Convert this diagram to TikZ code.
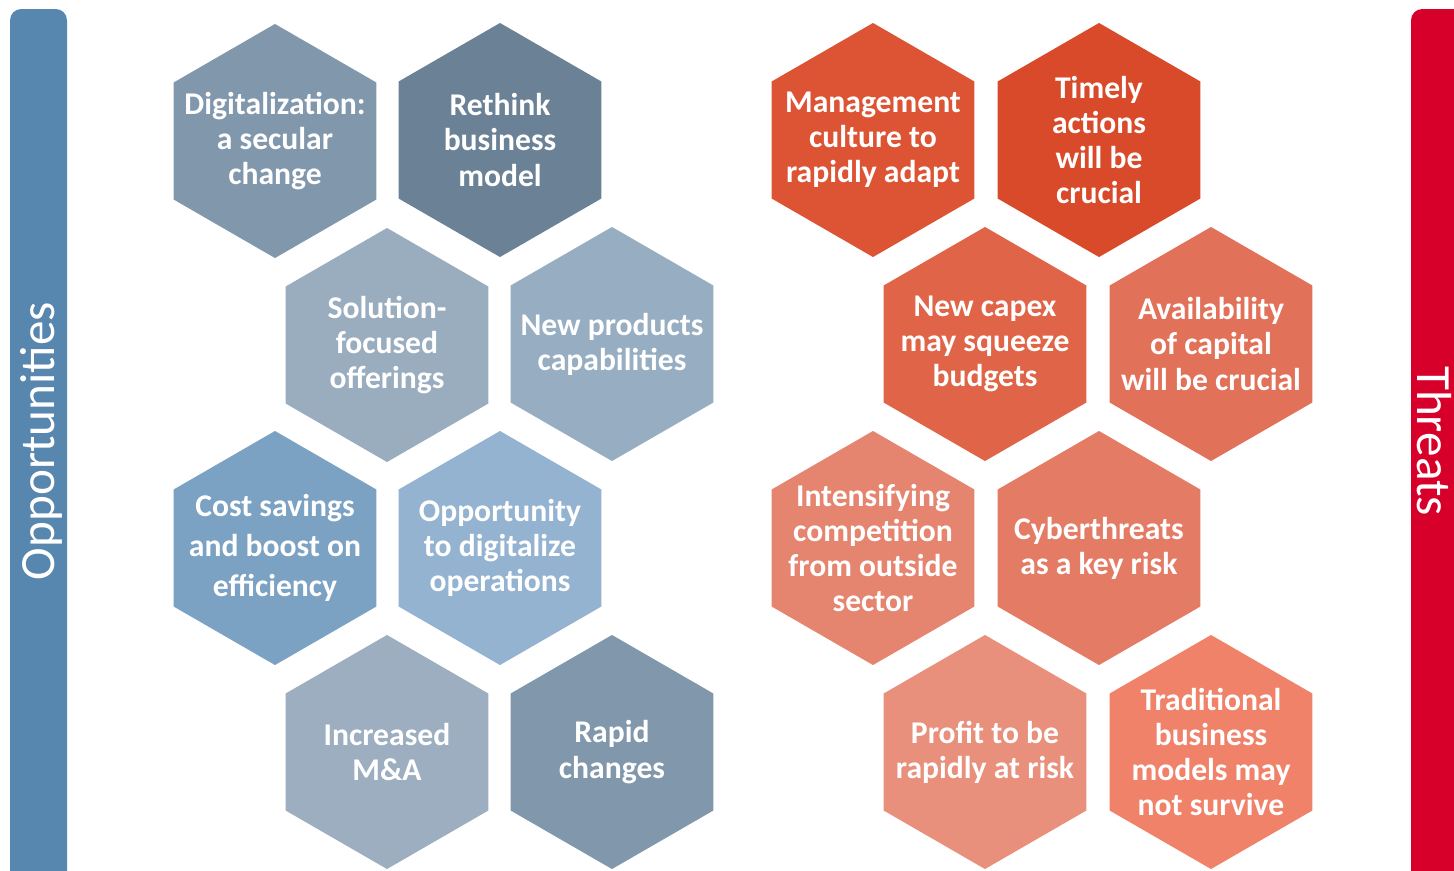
\documentclass[tikz,border=0pt]{standalone}
\usepackage{fontspec}
\setmainfont{Carlito}
\usetikzlibrary{shapes.geometric}

% blue side
\definecolor{oppbar}{HTML}{5786AE}
\definecolor{oppA}{HTML}{8197AC}
\definecolor{oppB}{HTML}{6B8296}
\definecolor{oppC}{HTML}{9AADBF}
\definecolor{oppD}{HTML}{97ADC2}
\definecolor{oppE}{HTML}{7BA1C3}
\definecolor{oppF}{HTML}{94B3D0}
\definecolor{oppG}{HTML}{9CAEBF}
\definecolor{oppH}{HTML}{8197AB}
% red side
\definecolor{thrbar}{HTML}{D6002A}
\definecolor{thrA}{HTML}{DD5435}
\definecolor{thrB}{HTML}{D84A29}
\definecolor{thrC}{HTML}{E06447}
\definecolor{thrD}{HTML}{E27159}
\definecolor{thrE}{HTML}{E5846F}
\definecolor{thrF}{HTML}{E47B65}
\definecolor{thrG}{HTML}{E8907B}
\definecolor{thrH}{HTML}{F0826A}

\tikzset{
hexa/.style={ % pointy-top hexagon cell
regular polygon,
regular polygon sides=6,
shape border rotate=90,
minimum size=5.85cm,
inner sep=0pt,
draw=none},
hextext/.style={ % white bold caption inside a cell
text=white,
font=\bfseries\fontsize{22.5}{25}\selectfont,
align=center},
sidetext/.style={ % caption of a side bar
text=white,
inner sep=0pt,
font=\fontsize{35}{40}\selectfont}}

\begin{document}
\begin{tikzpicture}[x=0.025cm, y=-0.025cm]
\useasboundingbox (0,0) rectangle (1454,870);

% side bars
\fill[oppbar, rounded corners=8] (10,920) -- (10,9) -- (67,9) -- (67,920) -- cycle;
\fill[thrbar, rounded corners=8] (1411,920) -- (1411,9) -- (1480,9) -- (1480,920) -- cycle;
\node[sidetext, rotate=90] (opp) at (41,441) {Opportunities};
\node[sidetext, rotate=-90] (thr) at (1434,441) {Threats};

% opportunities
\foreach \name/\x/\y/\col/\txt in {
o1/275/141/oppA/{Digitalization:\\a secular\\change},
o2/500/140/oppB/{Rethink\\business\\model},
o3/387/345/oppC/{Solution-\\focused\\offerings},
o4/612/344/oppD/{New products\\capabilities},
o5/275/548/oppE/{Cost savings\\[0.12cm]and boost on\\[0.12cm]efficiency},
o6/500/548/oppF/{Opportunity\\to digitalize\\operations},
o7/387/752/oppG/{Increased\\M\&A},
o8/612/752/oppH/{Rapid\\changes}}
{
\node[hexa, fill=\col] (\name) at (\x,\y) {};
\node[hextext] (\name-txt) at (\name.center) {\txt};
}

% threats
\foreach \name/\x/\y/\col/\txt in {
t1/873/140/thrA/{Management\\culture to\\rapidly adapt},
t2/1099/140/thrB/{Timely\\actions\\will be\\crucial},
t3/985/344/thrC/{New capex\\may squeeze\\budgets},
t4/1211/344/thrD/{Availability\\of capital\\will be crucial},
t5/873/548/thrE/{Intensifying\\competition\\from outside\\sector},
t6/1099/548/thrF/{Cyberthreats\\as a key risk},
t7/985/752/thrG/{Profit to be\\rapidly at risk},
t8/1211/752/thrH/{Traditional\\business\\models may\\not survive}}
{
\node[hexa, fill=\col] (\name) at (\x,\y) {};
\node[hextext] (\name-txt) at (\name.center) {\txt};
}
\end{tikzpicture}
\end{document}
